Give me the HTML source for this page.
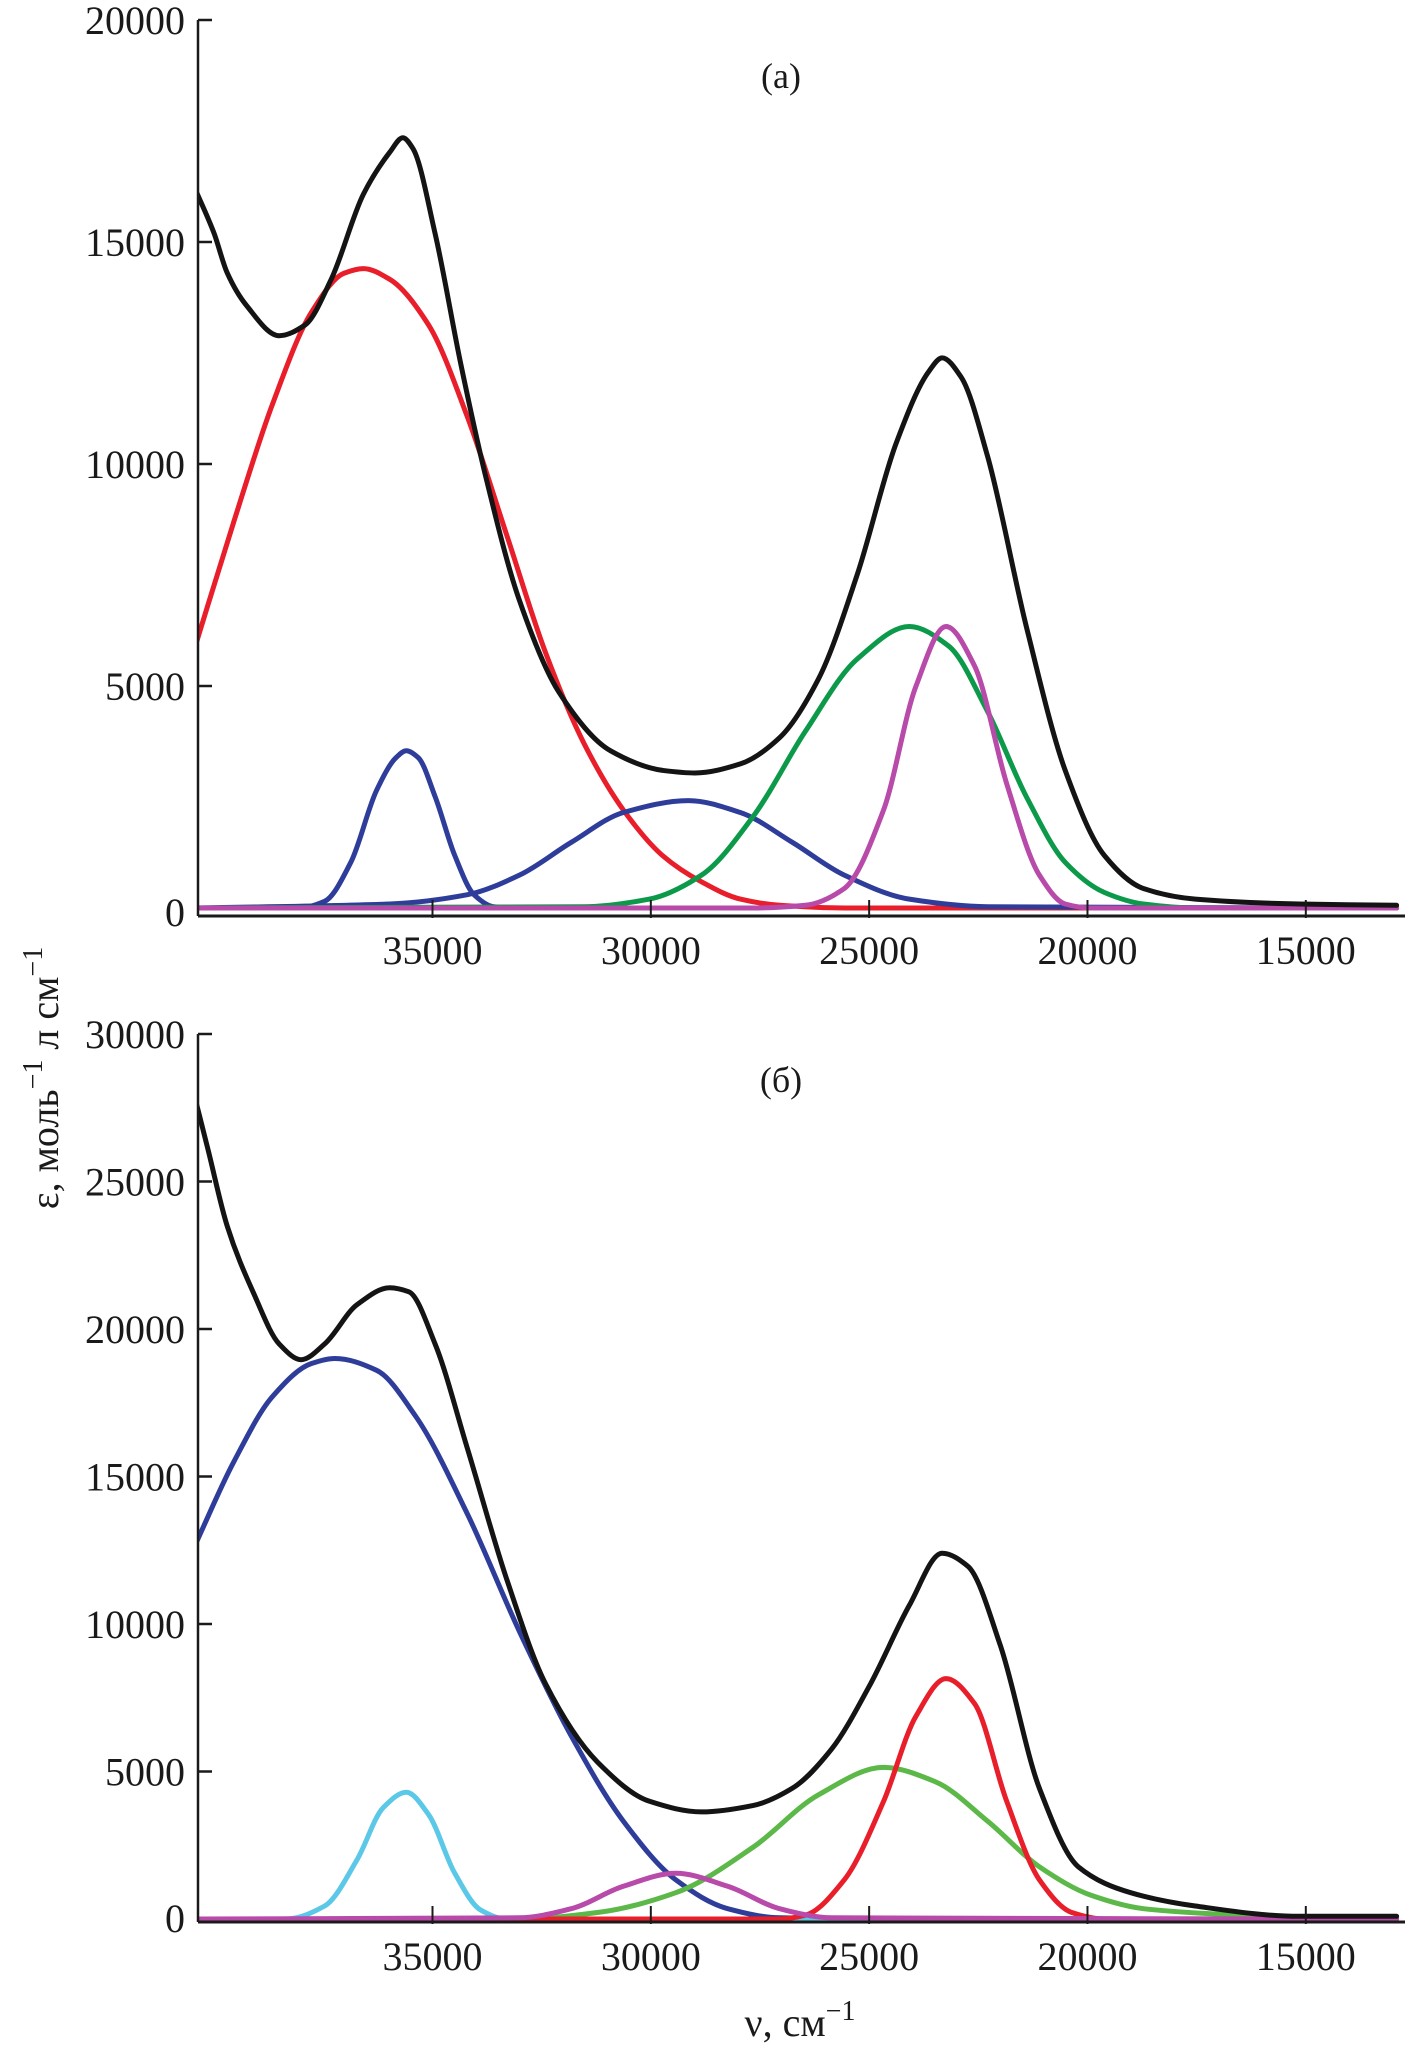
<!DOCTYPE html>
<html><head><meta charset="utf-8">
<style>
html,body{margin:0;padding:0;background:#fff;}
svg{display:block;}
text{font-family:"Liberation Serif",serif;fill:#1a1a1a;}
</style></head>
<body>
<svg id="chart" width="1411" height="2048" viewBox="0 0 1411 2048" xmlns="http://www.w3.org/2000/svg">
<text x="781" y="88" font-size="36" text-anchor="middle">(a)</text>
<text x="781" y="1092" font-size="36" text-anchor="middle">(б)</text>
<text transform="translate(58,1078) rotate(-90)" font-size="40" text-anchor="middle">ε, моль<tspan dy="-16" font-size="28">−1</tspan><tspan dy="16"> л см</tspan><tspan dy="-16" font-size="28">−1</tspan></text>
<text x="800" y="2036" font-size="40" text-anchor="middle">ν, см<tspan dy="-16" font-size="28">−1</tspan></text>
</svg>
<script>
// ---- data (wavenumber cm^-1, epsilon) ----
const xTicks = [35000, 30000, 25000, 20000, 15000];
const yTicksA = [0, 5000, 10000, 15000, 20000];
const yTicksB = [0, 5000, 10000, 15000, 20000, 25000, 30000];

const aBlackNu = [40450,40000,39700,39260,38510,37920,37320,36580,35980,35680,35450,34940,34350,33750,33010,32110,30920,29730,28990,27950,27050,26160,25270,24380,23630,23330,22890,22290,21400,20510,19610,18720,17530,15150,12920];
const aBlackEps = [16225,15190,14300,13570,12890,13130,14160,16080,17020,17350,17110,15190,12240,9590,6930,4870,3540,3100,3040,3245,3835,5160,7520,10470,12090,12390,11950,10180,6340,3100,1180,440,200,90,60];
const aRedNu = [40450,39550,38660,37770,37020,36580,35980,35090,34200,33300,32410,31520,30630,29730,28840,27950,27050,25570,12920];
const aRedEps = [5840,8700,11360,13420,14300,14400,14160,13130,11060,8400,5750,3690,2210,1180,590,200,60,0,0];
const aBlue1Nu = [40450,38070,37470,36870,36280,35830,35600,35330,34940,34490,34050,33600,33010];
const aBlue1Eps = [0,0,150,1030,2650,3390,3540,3390,2510,1180,300,30,0];
const aBlue2Nu = [40450,35980,34200,33010,31820,30630,29140,27950,26760,25570,24080,22290,12920];
const aBlue2Eps = [0,90,300,740,1480,2150,2420,2150,1480,740,200,30,0];
const aGreenNu = [40450,31520,30030,28840,27650,26460,25270,24080,23180,22290,21400,20510,19610,18720,17530,12920];
const aGreenEps = [0,30,200,740,2070,3980,5610,6340,5900,4430,2510,1030,350,90,0,0];
const aMagNu = [40450,27650,26460,25570,24670,23930,23240,22590,21850,21100,20510,19910,12920];
const aMagEps = [0,0,60,440,2210,4990,6340,5460,2800,740,90,0,0];

const bBlackNu = [40450,40150,39700,39110,38510,38010,37470,36730,35980,35540,34940,34200,33300,32410,31220,30030,28840,27650,26760,25860,24970,24080,23330,22740,22000,21100,20210,19010,17530,15150,12920];
const bBlackEps = [27900,26140,23480,21260,19490,18960,19490,20820,21400,21260,19490,15950,11520,7970,5320,3990,3630,3850,4430,5760,7970,10630,12400,11960,9300,4430,1770,890,440,90,90];
const bBlueNu = [40450,39550,38660,37770,37230,36280,35390,34200,33010,31820,30630,29430,28240,27050,24080];
const bBlueEps = [12630,15500,17720,18830,19000,18600,17050,13730,9750,6200,3320,1330,350,40,0];
const bCyanNu = [40450,38360,37470,36730,36130,35600,35090,34490,33900,33300,24080];
const bCyanEps = [0,0,440,2000,3770,4300,3540,1550,310,0,0];
const bMagNu = [40450,33010,31820,30630,29430,28240,27050,25860,12920];
const bMagEps = [0,40,350,1110,1550,1110,350,40,0];
const bGreenNu = [40450,33010,31220,29430,27650,26160,24670,23480,22290,21100,19910,18720,16630,15150,12920];
const bGreenEps = [0,0,220,890,2440,4210,5140,4650,3320,1770,800,350,130,0,0];
const bRedNu = [40450,27050,26460,25570,24670,23930,23240,22590,21850,21100,20360,19610,12920];
const bRedEps = [0,0,130,1330,3990,6870,8150,7310,3990,1330,220,0,0];

// ---- layout ----
const NS = 'http://www.w3.org/2000/svg';
const svg = document.getElementById('chart');
const X0 = 198, X1 = 1401, NU0 = 40370, NU1 = 12820;
function xScale(nu){ return X0 + (nu - NU0) * (X1 - X0) / (NU1 - NU0); }
const panels = [
  {id:'a', yTop:20, yZero:908, eMax:20000, axisY:916, ticks:yTicksA,
   series:[['black',aBlackNu,aBlackEps,'#141414'],['red',aRedNu,aRedEps,'#e81e2a'],['blue-narrow',aBlue1Nu,aBlue1Eps,'#2f3d9a'],['blue-wide',aBlue2Nu,aBlue2Eps,'#2f3d9a'],['green',aGreenNu,aGreenEps,'#0c9a4a'],['magenta',aMagNu,aMagEps,'#b84aaa']]},
  {id:'b', yTop:1034, yZero:1919, eMax:30000, axisY:1922, ticks:yTicksB,
   series:[['black',bBlackNu,bBlackEps,'#141414'],['blue',bBlueNu,bBlueEps,'#2f3d9a'],['cyan',bCyanNu,bCyanEps,'#5cc8e8'],['green',bGreenNu,bGreenEps,'#5cb848'],['red',bRedNu,bRedEps,'#e81e2a'],['magenta',bMagNu,bMagEps,'#b84aaa']]}
];
function el(tag, attrs, parent){
  const e = document.createElementNS(NS, tag);
  for (const k in attrs) e.setAttribute(k, attrs[k]);
  (parent||svg).appendChild(e); return e;
}
// monotone cubic (Fritsch-Carlson) path, points sorted by x
function monoPath(pts){
  const n = pts.length;
  const dx=[], dy=[], m=[];
  for (let i=0;i<n-1;i++){ dx.push(pts[i+1][0]-pts[i][0]); dy.push(pts[i+1][1]-pts[i][1]); m.push(dy[i]/dx[i]); }
  const t=[m[0]];
  for (let i=1;i<n-1;i++){
    if (m[i-1]*m[i]<=0) t.push(0);
    else { const w1=2*dx[i]+dx[i-1], w2=dx[i]+2*dx[i-1]; t.push((w1+w2)/(w1/m[i-1]+w2/m[i])); }
  }
  t.push(m[n-2]);
  let d='M'+pts[0][0].toFixed(1)+','+pts[0][1].toFixed(1);
  for (let i=0;i<n-1;i++){
    const h=dx[i]/3;
    d+=' C'+(pts[i][0]+h).toFixed(1)+','+(pts[i][1]+t[i]*h).toFixed(1)+' '+(pts[i+1][0]-h).toFixed(1)+','+(pts[i+1][1]-t[i+1]*h).toFixed(1)+' '+pts[i+1][0].toFixed(1)+','+pts[i+1][1].toFixed(1);
  }
  return d;
}
panels.forEach(p=>{
  const yScale = e => p.yZero - e * (p.yZero - p.yTop) / p.eMax;
  const defs = el('defs',{});
  const cp = el('clipPath',{id:'clip-'+p.id},defs);
  el('rect',{x:X0+1,y:p.yTop-30,width:X1-X0,height:p.axisY-p.yTop+30},cp);
  const g = el('g',{'clip-path':'url(#clip-'+p.id+')'});
  
  
  const order = p.series.slice(1).concat([p.series[0]]);
  order.forEach(s=>{
    const pts = s[1].map((nu,i)=>[xScale(nu), yScale(s[2][i])]);
    const path = el('path',{d:monoPath(pts),fill:'none',stroke:s[3],'stroke-width':5,'stroke-linejoin':'round','stroke-linecap':'round'},g);
    
    
  });
  const ya = el('line',{x1:X0,y1:p.yTop,x2:X0,y2:p.axisY,stroke:'#1a1a1a','stroke-width':2.5});
  
  
  const xa = el('line',{x1:X0,y1:p.axisY,x2:X1+4,y2:p.axisY,stroke:'#1a1a1a','stroke-width':3});
  
  
  p.ticks.forEach(t=>{
    const y = t===0 ? p.axisY-4 : yScale(t);
    if (t!==0){
      const tl = el('line',{x1:X0,y1:y,x2:X0+14,y2:y,stroke:'#1a1a1a','stroke-width':2.5});
      
      
    }
    const tx = el('text',{x:185,y:y+14,'font-size':40,'text-anchor':'end'});
    tx.textContent = String(t);
    
    
  });
  xTicks.forEach(t=>{
    const x = xScale(t);
    const tl = el('line',{x1:x,y1:p.axisY-16,x2:x,y2:p.axisY+2,stroke:'#1a1a1a','stroke-width':2});
    
    
    const tx = el('text',{x:x,y:p.axisY+48,'font-size':40,'text-anchor':'middle'});
    tx.textContent = String(t);
    
    
  });
});
</script>
</body></html>
